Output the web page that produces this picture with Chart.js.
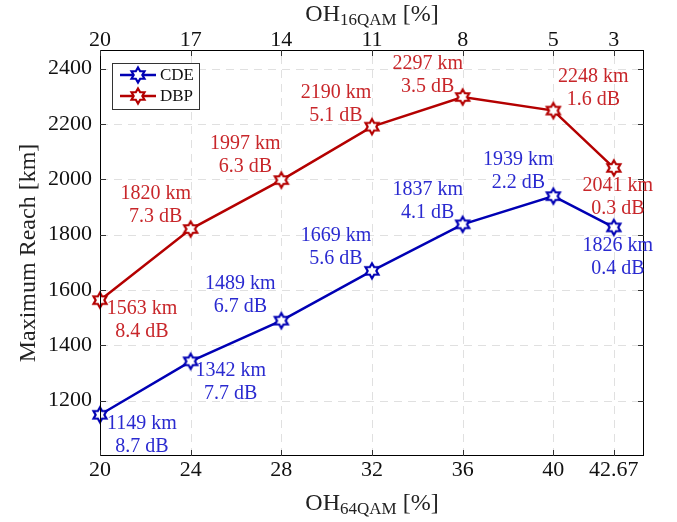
<!DOCTYPE html>
<html>
<head>
<meta charset="utf-8">
<script src="https://cdn.jsdelivr.net/npm/chart.js@4"></script>
<style>
  html, body { margin: 0; padding: 0; background: #fff; }
  #wrap { width: 677px; height: 522px; }
</style>
</head>
<body>
<div id="wrap"><canvas id="reachChart" width="677" height="522"></canvas></div>
<script>
// OH values (bottom axis, 64QAM) and the matching 16QAM overheads (top axis)
const ohBottom = [20, 24, 28, 32, 36, 40, 42.67];
const ohTop = ['20', '17', '14', '11', '8', '5', '3'];
const yTicks = [1200, 1400, 1600, 1800, 2000, 2200, 2400];

const cdeReach = [1149, 1342, 1489, 1669, 1837, 1939, 1826];
const cdeGain = ['8.7', '7.7', '6.7', '5.6', '4.1', '2.2', '0.4'];
const dbpReach = [1563, 1820, 1997, 2190, 2297, 2248, 2041];
const dbpGain = ['8.4', '7.3', '6.3', '5.1', '3.5', '1.6', '0.3'];

// where each text block sits relative to its point (px)
const cdeLabelPos = [[42, 9], [40, 9], [-41, -37], [-36, -35], [-35, -35], [-35, -36], [4, 18]];
const dbpLabelPos = [[42, 9], [-35, -35], [-36, -36], [-36, -34], [-35, -33], [40, -34], [4, 18]];

const FONT = '"Liberation Serif", "DejaVu Serif", serif';
const cdeColor = '#0000b4';
const dbpColor = '#b40000';
const cdeText = '#2a2ad0';
const dbpText = '#c8262a';

function hexagram(color, r) {
    const size = 22;
    const c = document.createElement('canvas');
    c.width = size; c.height = size;
    const g = c.getContext('2d');
    const cx = size / 2, cy = size / 2;
    g.beginPath();
    for (let i = 0; i < 12; i++) {
        const a = -Math.PI / 2 + i * Math.PI / 6;
        const rr = (i % 2 === 0) ? r : r * 0.577;
        const px = cx + rr * Math.cos(a), py = cy + rr * Math.sin(a);
        if (i === 0) g.moveTo(px, py); else g.lineTo(px, py);
    }
    g.closePath();
    g.fillStyle = '#fff';
    g.fill();
    g.lineWidth = 2.2;
    g.strokeStyle = color;
    g.lineJoin = 'miter';
    g.stroke();
    return c;
}

const cdeMarker = hexagram(cdeColor, 7.5);
const dbpMarker = hexagram(dbpColor, 7.5);

function toPoints(ys) {
    return ohBottom.map((x, i) => ({ x: x, y: ys[i] }));
}

function fixTicks(vals) {
    return function (scale) {
        scale.ticks = vals.map(v => ({ value: v }));
    };
}

const gridPlugin = {
    id: 'dashGrid',
    beforeDatasetsDraw(chart) {
        const ctx = chart.ctx;
        const a = chart.chartArea;
        const xs = chart.scales.x, ys = chart.scales.y;
        ctx.save();
        ctx.strokeStyle = '#e0e0e0';
        ctx.lineWidth = 1;
        ctx.setLineDash([8, 6]);
        ctx.beginPath();
        ohBottom.forEach(v => {
            const px = Math.round(xs.getPixelForValue(v)) + 0.5;
            ctx.moveTo(px, a.bottom); ctx.lineTo(px, a.top);
        });
        yTicks.forEach(v => {
            const py = Math.round(ys.getPixelForValue(v)) + 0.5;
            ctx.moveTo(a.left, py); ctx.lineTo(a.right, py);
        });
        ctx.stroke();
        ctx.restore();
    }
};

const decorPlugin = {
    id: 'decor',
    afterDatasetsDraw(chart) {
        const ctx = chart.ctx;
        const a = chart.chartArea;
        const xs = chart.scales.x, ys = chart.scales.y;
        ctx.save();
        // frame
        ctx.strokeStyle = '#000';
        ctx.lineWidth = 1;
        ctx.strokeRect(a.left + 0.5, a.top + 0.5, a.right - a.left - 1, a.bottom - a.top - 1);
        // inward ticks
        ctx.strokeStyle = '#333';
        ctx.beginPath();
        ohBottom.forEach(v => {
            const px = Math.round(xs.getPixelForValue(v)) + 0.5;
            ctx.moveTo(px, a.bottom); ctx.lineTo(px, a.bottom - 6);
            ctx.moveTo(px, a.top); ctx.lineTo(px, a.top + 6);
        });
        yTicks.forEach(v => {
            const py = Math.round(ys.getPixelForValue(v)) + 0.5;
            ctx.moveTo(a.left, py); ctx.lineTo(a.left + 6, py);
            ctx.moveTo(a.right, py); ctx.lineTo(a.right - 6, py);
        });
        ctx.stroke();

        // point annotations
        ctx.font = '20px ' + FONT;
        ctx.textAlign = 'center';
        ctx.textBaseline = 'middle';
        const sets = [
            [cdeReach, cdeGain, cdeLabelPos, cdeText],
            [dbpReach, dbpGain, dbpLabelPos, dbpText]
        ];
        sets.forEach(([reach, gain, pos, col]) => {
            ctx.fillStyle = col;
            reach.forEach((r, i) => {
                const px = xs.getPixelForValue(ohBottom[i]) + pos[i][0];
                const py = ys.getPixelForValue(r) + pos[i][1];
                ctx.fillText(r + ' km', px, py);
                ctx.fillText(gain[i] + ' dB', px, py + 23);
            });
        });

        // legend
        const lx = a.left + 12, ly = a.top + 13;
        ctx.fillStyle = '#fff';
        ctx.fillRect(lx, ly, 88, 47);
        ctx.strokeStyle = '#333';
        ctx.strokeRect(lx + 0.5, ly + 0.5, 87, 46);
        [[cdeColor, cdeMarker, 'CDE'], [dbpColor, dbpMarker, 'DBP']].forEach(([col, mk, name], k) => {
            const yy = ly + 12 + k * 21;
            ctx.strokeStyle = col;
            ctx.lineWidth = 2.5;
            ctx.beginPath();
            ctx.moveTo(lx + 8, yy); ctx.lineTo(lx + 44, yy);
            ctx.stroke();
            ctx.drawImage(mk, lx + 26 - 11, yy - 11);
            ctx.fillStyle = '#111';
            ctx.font = '17px ' + FONT;
            ctx.textAlign = 'left';
            ctx.fillText(name, lx + 48, yy + 1);
        });

        // axis titles with subscripts
        function subTitle(x, y, main, sub, tail) {
            ctx.fillStyle = '#222';
            ctx.textAlign = 'left';
            ctx.textBaseline = 'alphabetic';
            ctx.font = '24px ' + FONT;
            const w1 = ctx.measureText(main).width;
            ctx.font = '17px ' + FONT;
            const w2 = ctx.measureText(sub).width;
            ctx.font = '24px ' + FONT;
            const w3 = ctx.measureText(tail).width;
            let sx = x - (w1 + w2 + w3) / 2;
            ctx.fillText(main, sx, y);
            ctx.font = '17px ' + FONT;
            ctx.fillText(sub, sx + w1, y + 4);
            ctx.font = '24px ' + FONT;
            ctx.fillText(tail, sx + w1 + w2, y);
        }
        const midX = (a.left + a.right) / 2;
        subTitle(midX, 510, 'OH', '64QAM', ' [%]');
        subTitle(midX, 21, 'OH', '16QAM', ' [%]');

        ctx.save();
        ctx.translate(29, (a.top + a.bottom) / 2);
        ctx.rotate(-Math.PI / 2);
        ctx.font = '24px ' + FONT;
        ctx.textAlign = 'center';
        ctx.textBaseline = 'middle';
        ctx.fillStyle = '#222';
        ctx.fillText('Maximum Reach [km]', 0, 0);
        ctx.restore();

        ctx.restore();
    }
};

const ctx = document.getElementById('reachChart').getContext('2d');
const config = {
    type: 'line',
    data: {
        datasets: [{
            label: 'CDE',
            data: toPoints(cdeReach),
            borderColor: cdeColor,
            borderWidth: 2.5,
            pointStyle: cdeMarker,
            pointRadius: 7,
            clip: false,
            tension: 0
        }, {
            label: 'DBP',
            data: toPoints(dbpReach),
            borderColor: dbpColor,
            borderWidth: 2.5,
            pointStyle: dbpMarker,
            pointRadius: 7,
            clip: false,
            tension: 0
        }]
    },
    options: {
        responsive: false,
        animation: false,
        layout: { padding: { left: 0, right: 33, top: 0, bottom: 0 } },
        plugins: {
            legend: { display: false },
            tooltip: { enabled: false }
        },
        scales: {
            x: {
                type: 'linear',
                position: 'bottom',
                min: 20,
                max: 44,
                afterBuildTicks: fixTicks(ohBottom),
                afterFit: (s) => { s.height = 66; },
                border: { display: false },
                grid: { display: false, drawTicks: false },
                ticks: {
                    color: '#111',
                    font: { family: FONT, size: 22 },
                    padding: 1,
                    maxRotation: 0,
                    callback: (v) => String(v)
                }
            },
            x2: {
                type: 'linear',
                position: 'top',
                min: 20,
                max: 44,
                afterBuildTicks: fixTicks(ohBottom),
                afterFit: (s) => { s.height = 50; },
                border: { display: false },
                grid: { display: false, drawTicks: false },
                ticks: {
                    color: '#111',
                    font: { family: FONT, size: 22 },
                    padding: -3,
                    maxRotation: 0,
                    callback: (v) => ohTop[ohBottom.indexOf(v)]
                }
            },
            y: {
                min: 1000,
                max: 2467,
                afterBuildTicks: fixTicks(yTicks),
                afterFit: (s) => { s.width = 100; },
                border: { display: false },
                grid: { display: false, drawTicks: false },
                ticks: {
                    color: '#111',
                    font: { family: FONT, size: 22 },
                    padding: 8,
                    callback: (v) => String(v)
                }
            }
        }
    },
    plugins: [gridPlugin, decorPlugin]
};

const myChart = new Chart(ctx, config);
</script>
</body>
</html>
